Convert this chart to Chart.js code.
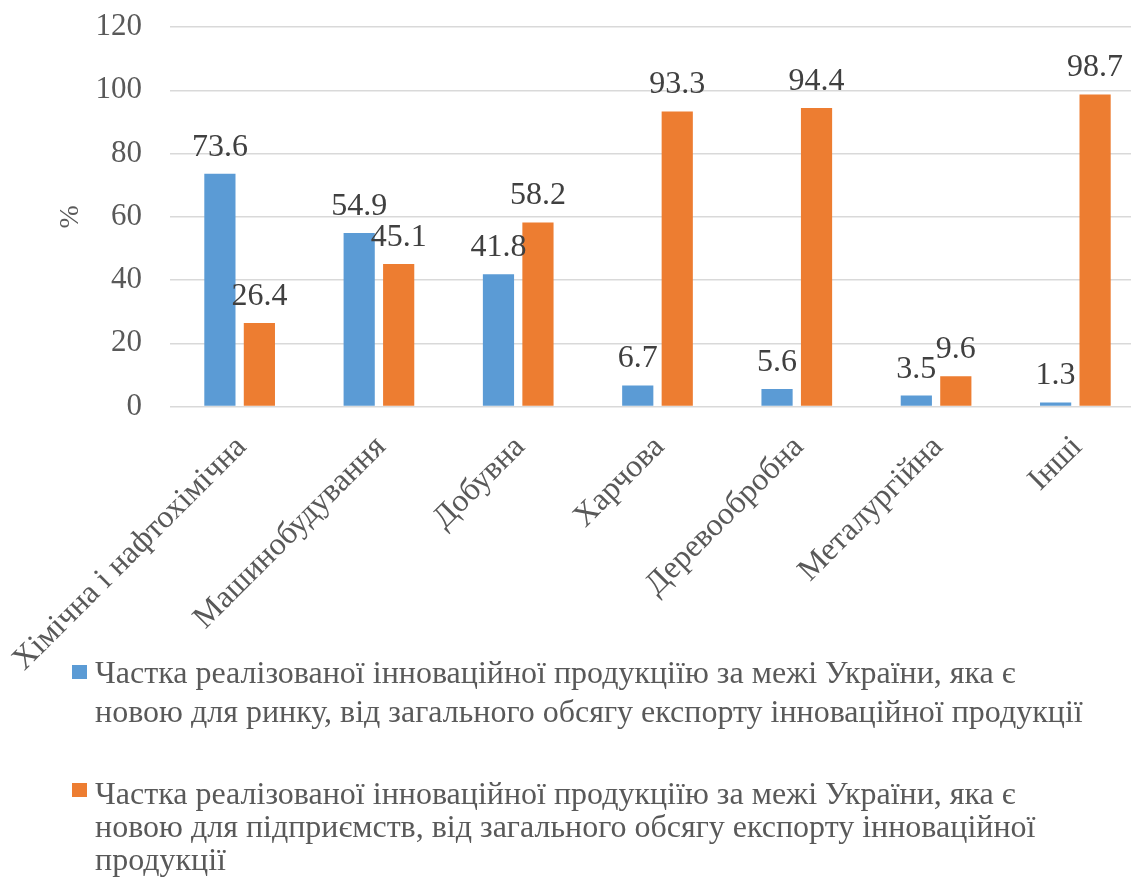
<!DOCTYPE html>
<html>
<head>
<meta charset="utf-8">
<script src="https://cdn.jsdelivr.net/npm/chart.js@4.4.1/dist/chart.umd.min.js"></script>
<style>
  html, body { margin: 0; padding: 0; background: #fff; }
  #wrap { position: relative; width: 1131px; height: 881px; overflow: hidden; }
  #c { position: absolute; left: 0; top: 0; }
  #legend { position: absolute; left: 0; top: 0; width: 1131px; height: 881px; pointer-events: none;
            font-family: 'Liberation Serif', 'Times New Roman', serif; font-size: 32px; color: #595959; }
  .item { position: absolute; left: 95px; white-space: nowrap; }
  .sw { position: absolute; width: 15px; height: 14px; left: -23px; }
</style>
</head>
<body>
<div id="wrap">
  <canvas id="c" width="1145" height="881"></canvas>
  <div id="legend"></div>
</div>
<script>
const categories = ['Хімічна і нафтохімічна', 'Машинобудування', 'Добувна', 'Харчова', 'Деревообробна', 'Металургійна', 'Інші'];
const seriesMarket = [73.6, 54.9, 41.8, 6.7, 5.6, 3.5, 1.3];
const seriesEnterprise = [26.4, 45.1, 58.2, 93.3, 94.4, 9.6, 98.7];
const seriesNames = [
  ['Частка реалізованої інноваційної продукціїю за межі України, яка є', 'новою для ринку, від загального обсягу експорту інноваційної продукції'],
  ['Частка реалізованої інноваційної продукціїю за межі України, яка є', 'новою для підприємств, від загального обсягу експорту інноваційної', 'продукції']
];
const seriesColors = ['#5B9BD5', '#ED7D31'];
const yTicks = [0, 20, 40, 60, 80, 100, 120];
const yTitle = '%';

const FONT = "'Liberation Serif', 'Times New Roman', serif";

const valueLabels = {
  id: 'valueLabels',
  afterDatasetsDraw(chart) {
    const ctx = chart.ctx;
    ctx.save();
    ctx.font = '32px ' + FONT;
    ctx.fillStyle = '#404040';
    ctx.textAlign = 'center';
    ctx.textBaseline = 'alphabetic';
    chart.data.datasets.forEach((ds, i) => {
      chart.getDatasetMeta(i).data.forEach((el, j) => {
        ctx.fillText(ds.data[j].toFixed(1), el.x, el.y - 18);
      });
    });
    ctx.restore();
  }
};

const chart = new Chart(document.getElementById('c'), {
  type: 'bar',
  data: {
    labels: categories,
    datasets: [
      { label: seriesNames[0].join(' '), data: seriesMarket, backgroundColor: seriesColors[0],
        categoryPercentage: 0.567, barPercentage: 0.79 },
      { label: seriesNames[1].join(' '), data: seriesEnterprise, backgroundColor: seriesColors[1],
        categoryPercentage: 0.567, barPercentage: 0.79 }
    ]
  },
  options: {
    responsive: false,
    animation: false,
    layout: { padding: { left: 15, right: 0, top: 27, bottom: 188 } },
    plugins: { legend: { display: false }, tooltip: { enabled: false } },
    scales: {
      x: {
        afterFit(scale) { scale.paddingLeft = 0; scale.paddingRight = 0; },
        grid: { display: false },
        border: { display: false },
        ticks: { font: { family: FONT, size: 32 }, color: '#595959', minRotation: 45, maxRotation: 45, padding: 14, labelOffset: 2 }
      },
      y: {
        min: 0, max: 120,
        afterBuildTicks(scale) { scale.ticks = yTicks.map(v => ({ value: v })); },
        afterFit(scale) { scale.paddingTop = 0; scale.paddingBottom = 0; scale.width = 155; },
        grid: { color: '#D9D9D9', lineWidth: 1.5, drawTicks: false },
        border: { display: false },
        ticks: { font: { family: FONT, size: 31 }, color: '#595959', padding: 28 },
        title: { display: true, text: yTitle, font: { family: FONT, size: 28 }, color: '#595959', padding: { top: 39, bottom: 0 } }
      }
    }
  },
  plugins: [valueLabels]
});

// HTML legend built from datasets
const legend = document.getElementById('legend');
const itemLayout = [
  { top: 653, lineHeight: 38.5, swTop: 12 },
  { top: 777, lineHeight: 33, swTop: 6 }
];
chart.data.datasets.forEach((ds, i) => {
  const div = document.createElement('div');
  div.className = 'item';
  div.style.top = itemLayout[i].top + 'px';
  div.style.lineHeight = itemLayout[i].lineHeight + 'px';
  const sw = document.createElement('span');
  sw.className = 'sw';
  sw.style.top = itemLayout[i].swTop + 'px';
  sw.style.background = ds.backgroundColor;
  div.appendChild(sw);
  seriesNames[i].forEach((line, k) => {
    if (k > 0) div.appendChild(document.createElement('br'));
    div.appendChild(document.createTextNode(line));
  });
  legend.appendChild(div);
});
</script>
</body>
</html>
